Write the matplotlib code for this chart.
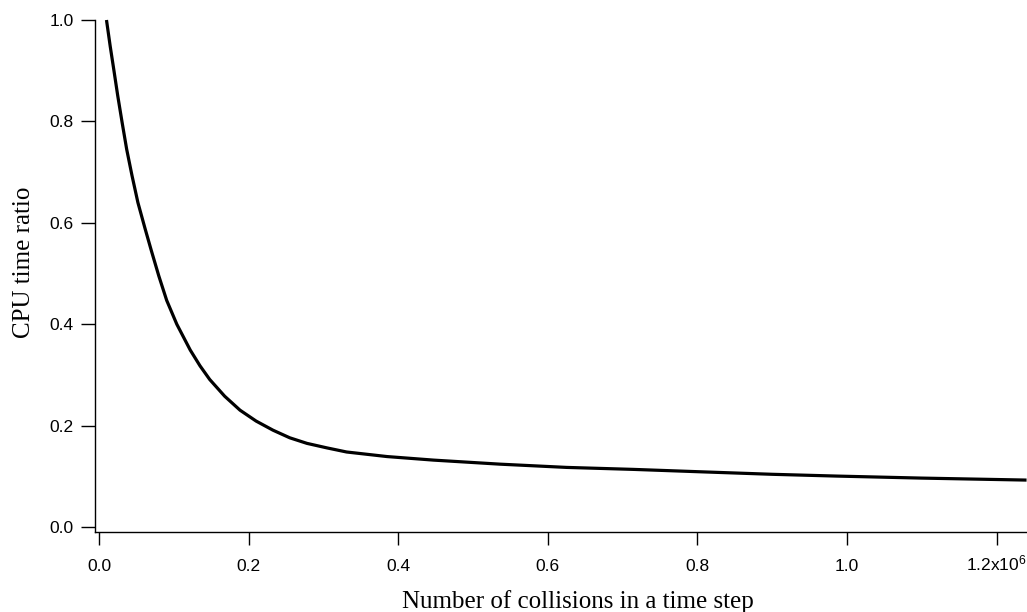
import numpy as np
import matplotlib
matplotlib.use("Agg")
import matplotlib.pyplot as plt

# collisions per time step (x1e6) and CPU time ratio
collisions = [0.010, 0.015, 0.020, 0.025, 0.031, 0.037, 0.044, 0.052, 0.0615,
              0.070, 0.080, 0.0905, 0.104, 0.122, 0.135, 0.148, 0.168, 0.1885,
              0.210, 0.2326, 0.255, 0.278, 0.305, 0.331, 0.385, 0.447, 0.536,
              0.625, 0.714, 0.803, 0.900, 0.986, 1.100, 1.240]
cpu_ratio = [1.000, 0.948, 0.900, 0.851, 0.797, 0.745, 0.694, 0.640, 0.589,
             0.545, 0.495, 0.447, 0.400, 0.349, 0.318, 0.291, 0.258, 0.2305,
             0.209, 0.191, 0.176, 0.165, 0.156, 0.148, 0.139, 0.132, 0.124,
             0.1176, 0.1137, 0.109, 0.104, 0.1005, 0.0965, 0.0926]

x_ticks = [0.0, 0.2, 0.4, 0.6, 0.8, 1.0, 1.2]
x_tick_labels = ["0.0", "0.2", "0.4", "0.6", "0.8", "1.0", "1.2x10$^{6}$"]
y_ticks = [0.0, 0.2, 0.4, 0.6, 0.8, 1.0]

plt.rcParams["mathtext.fontset"] = "custom"
plt.rcParams["mathtext.rm"] = "Liberation Sans"
plt.rcParams["mathtext.it"] = "Liberation Sans"

W, H = 1027, 612
fig = plt.figure(figsize=(W / 100, H / 100), dpi=100)
ax = fig.add_axes([95 / W, 80 / H, 932 / W, 512 / H])

ax.plot(np.array(collisions) * 1e6, cpu_ratio, color="black", lw=2.3,
        clip_on=False, solid_capstyle="butt", solid_joinstyle="round")

ax.set_xlim(-0.00535e6, 1.2406e6)
ax.set_ylim(-0.0098, 1.0)

ax.set_xticks(np.array(x_ticks) * 1e6)
ax.set_xticklabels(x_tick_labels)
ax.set_yticks(y_ticks)
ax.set_yticklabels([f"{v:.1f}" for v in y_ticks])

for lbl in ax.get_xticklabels() + ax.get_yticklabels():
    lbl.set_fontfamily("Liberation Sans")
    lbl.set_fontsize(12.5)
for lbl in ax.get_xticklabels():
    lbl.set_verticalalignment("baseline")

ax.tick_params(axis="x", direction="out", length=9.5, width=1.0, pad=18.5)
ax.tick_params(axis="y", direction="out", length=10, width=1.0, pad=5.5)

ax.spines["top"].set_visible(False)
ax.spines["right"].set_visible(False)
ax.spines["left"].set_linewidth(1.0)
ax.spines["bottom"].set_linewidth(1.0)

# axis titles in serif, placed in figure pixels
fig.text(578 / W, 4 / H, "Number of collisions in a time step",
         family="Liberation Serif", fontsize=18, ha="center", va="baseline")
fig.text(30 / W, (H - 262) / H, "CPU time ratio", family="Liberation Serif",
         fontsize=18, rotation=90, rotation_mode="anchor",
         ha="center", va="baseline")

fig.savefig("out.png", dpi=100)
